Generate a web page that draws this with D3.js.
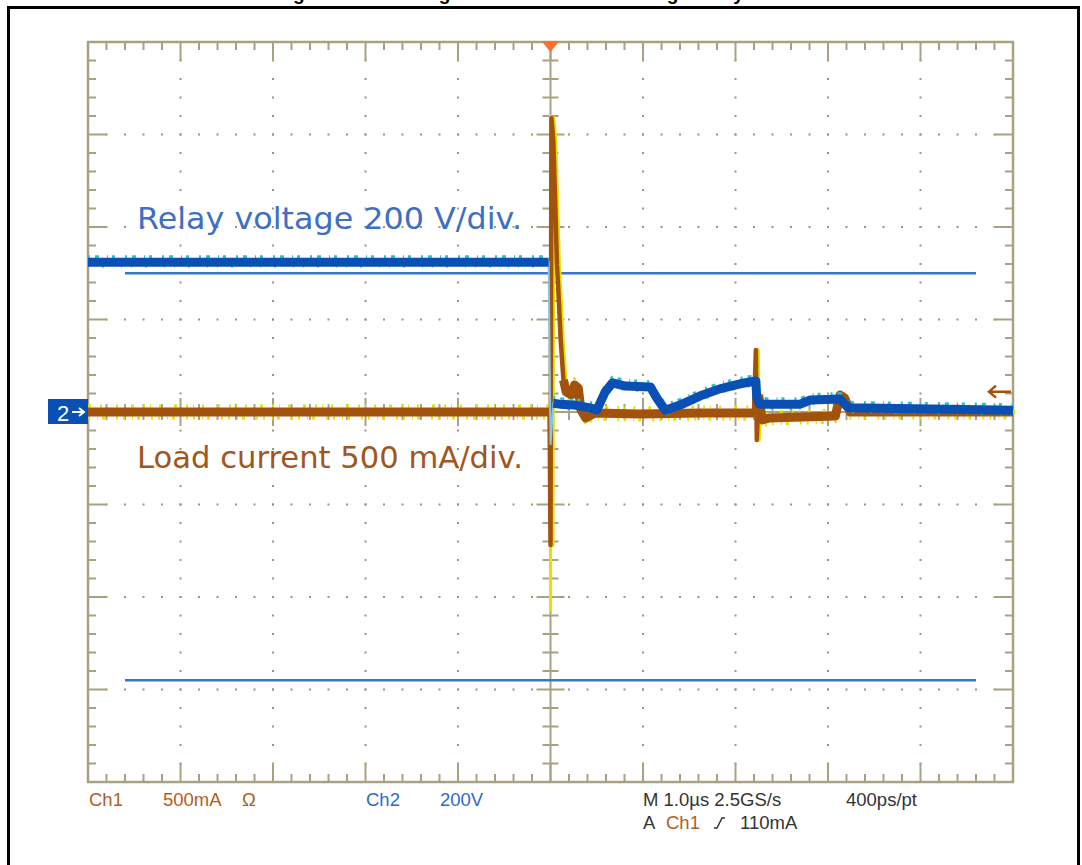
<!DOCTYPE html>
<html>
<head>
<meta charset="utf-8">
<script src="https://cdn.jsdelivr.net/npm/d3@7"></script>
<style>
  body { margin: 0; background: #fff; }
  svg { display: block; }
</style>
</head>
<body>
<div id="scope"></div>
<script>
// chart values
const ch2Time  = [-5.0, -0.02, 0.0, 0.03, 0.10, 0.26, 0.43, 0.50, 0.59, 0.67, 0.81, 1.08, 1.15, 1.24, 1.40, 1.62, 1.83, 2.05, 2.22, 2.23, 2.26, 2.70, 2.81, 3.13, 3.22, 5.0];
const ch2Volts = [324, 324, -71, 19, 17, 15, 9, 4, 43, 63, 56, 54, 30, 4, 15, 35, 50, 61, 67, 30, 17, 17, 26, 28, 9, 4];
const ch1Time  = [-5.0, -0.01, 0.0, 0.01, 0.03, 0.05, 0.07, 0.09, 0.11, 0.14, 0.17, 0.23, 0.26, 0.30, 0.33, 0.38, 0.48, 0.97, 1.62, 2.20, 2.22, 2.23, 2.25, 2.29, 2.37, 3.08, 3.13, 3.18, 3.24, 5.0];
const ch1mA    = [0, 0, -719, 1589, 1470, 1146, 795, 605, 389, 173, 108, 92, 146, 130, 11, -32, -5, -11, -5, -5, 335, -151, 92, -43, -32, -22, 92, 76, 0, 0];
const ch1Spike = [-1081, 1605];   // envelope of the switching spike at t = 0
const ch1Fast = [[-0.005, 0.12], [2.21, 2.24]];  // fast parts of ch1, drawn thin
const ch2Fast = [[-0.01, 0.01]];
const cursorVolts = [300, -580];
const cursorSpan = [-4.6, 4.6];
const trigLevel = 110;            // mA
const voltsPerDiv = 200, mAPerDiv = 500, usPerDiv = 1;
const readoutRow1 = [
  { t: "Ch1", x: 89, c: "ch1" }, { t: "500mA", x: 163, c: "ch1" }, { t: "\u03A9", x: 242, c: "ch1" },
  { t: "Ch2", x: 366, c: "ch2" }, { t: "200V", x: 440, c: "ch2" },
  { t: "M 1.0\u00B5s 2.5GS/s", x: 643, c: "txt" }, { t: "400ps/pt", x: 846, c: "txt" }
];
const readoutRow2 = [
  { t: "A", x: 643, c: "txt" }, { t: "Ch1", x: 666, c: "ch1" }, { t: "110mA", x: 740, c: "txt" }
];

const W = 1082, H = 865;
const plot = { left: 88, right: 1013, top: 42, bottom: 782 };
const colors = { grid: "#a8a282", dot: "#9c9779", ch1: "#a3520c", ch2: "#0a50b4", cyan: "#22c4d8",
                 yellow: "#e8e000", cursor: "#3a74cc", txt: "#333", trig: "#ff7030",
                 relayTxt: "#3f6fc2", loadTxt: "#a0561c", ch1Txt: "#b0601e", ch2Txt: "#2c6ad0" };

const svg = d3.select("#scope").append("svg").attr("width", W).attr("height", H);

// scales
const x = d3.scaleLinear().domain([-5 * usPerDiv, 5 * usPerDiv]).range([plot.left, plot.right]);
const yDiv = d3.scaleLinear().domain([-4, 4]).range([plot.bottom, plot.top]);
const yV = d3.scaleLinear().domain([-4 * voltsPerDiv, 4 * voltsPerDiv]).range([plot.bottom, plot.top]);
const yI = d3.scaleLinear().domain([-4 * mAPerDiv, 4 * mAPerDiv]).range([plot.bottom, plot.top]);

// page frame and (cut off) caption
svg.append("text").attr("x", 510).attr("y", 0).attr("text-anchor", "middle")
  .attr("font-family", "Liberation Sans, Arial").attr("font-weight", "bold").attr("font-size", 19)
  .attr("fill", "#000").text("Figure 9. Switching off a resistive load using a relay");
svg.append("rect").attr("x", 8.5).attr("y", 7.5).attr("width", 1070).attr("height", 900)
  .attr("fill", "#fff").attr("stroke", "#000").attr("stroke-width", 3);

// graticule
const g = svg.append("g");
const fine = d3.range(0, 51).map(k => -5 + k * 0.2);     // time positions, 0.2 div
const fineY = d3.range(0, 41).map(k => -4 + k * 0.2);    // vertical positions
const isMajor = v => Math.abs(v - Math.round(v)) < 1e-6;

// dots along interior division lines
for (let d = -4; d <= 4; d++) {
  if (d === 0) continue;
  fineY.forEach(v => g.append("rect").attr("x", x(d) - 1).attr("y", yDiv(v) - 1).attr("width", 2).attr("height", 2).attr("fill", colors.dot));
}
for (let d = -3; d <= 3; d++) {
  if (d === 0) continue;
  fine.forEach(t => g.append("rect").attr("x", x(t) - 1).attr("y", yDiv(d) - 1).attr("width", 2).attr("height", 2).attr("fill", colors.dot));
}

const tick = (x1, y1, x2, y2) => g.append("line").attr("x1", x1).attr("y1", y1).attr("x2", x2).attr("y2", y2)
  .attr("stroke", colors.grid).attr("stroke-width", 2);

// edge ticks
fine.forEach(t => {
  const len = isMajor(t) ? 19 : 8;
  tick(x(t), plot.top, x(t), plot.top + len);
  tick(x(t), plot.bottom, x(t), plot.bottom - len);
});
fineY.forEach(v => {
  const len = isMajor(v) ? 19 : 8;
  tick(plot.left, yDiv(v), plot.left + len, yDiv(v));
  tick(plot.right, yDiv(v), plot.right - len, yDiv(v));
});
// centre cross
tick(x(0), plot.top, x(0), plot.bottom);
tick(plot.left, yDiv(0), plot.right, yDiv(0));
fineY.forEach(v => { const h = isMajor(v) ? 14 : 8; tick(x(0) - h, yDiv(v), x(0) + h, yDiv(v)); });
fine.forEach(t => { const h = isMajor(t) ? 14 : 8; tick(x(t), yDiv(0) - h, x(t), yDiv(0) + h); });
// outer frame
g.append("rect").attr("x", plot.left).attr("y", plot.top).attr("width", plot.right - plot.left)
  .attr("height", plot.bottom - plot.top).attr("fill", "none").attr("stroke", colors.grid).attr("stroke-width", 2.5);

// cursors
cursorVolts.forEach(v => {
  svg.append("line").attr("x1", x(cursorSpan[0])).attr("x2", x(cursorSpan[1]))
    .attr("y1", yV(v)).attr("y2", yV(v)).attr("stroke", colors.cursor).attr("stroke-width", 2.5);
});

// traces
const ch1 = d3.zip(ch1Time, ch1mA);
const ch2 = d3.zip(ch2Time, ch2Volts);
const slow = fast => d => !fast.some(e => d[0] > e[0] && d[0] < e[1]);
const line1 = d3.line().x(d => x(d[0])).y(d => yI(d[1]));
const line2 = d3.line().x(d => x(d[0])).y(d => yV(d[1]));
const line1s = d3.line().defined(slow(ch1Fast)).x(d => x(d[0])).y(d => yI(d[1]));
const line2s = d3.line().defined(slow(ch2Fast)).x(d => x(d[0])).y(d => yV(d[1]));

const tr = svg.append("g");
// ch1 envelope specks (yellow) above and below the trace
[-6, 6].forEach((off, i) => {
  tr.append("path").datum(ch1).attr("d", line1s).attr("transform", "translate(0," + off + ")")
    .attr("fill", "none").attr("stroke", colors.yellow).attr("stroke-width", 3)
    .attr("stroke-dasharray", i ? "2,7,1,4,3,11,2,5" : "3,9,2,5,1,8,2,13");
});
tr.append("line").attr("x1", x(0)).attr("x2", x(0)).attr("y1", yI(ch1Spike[0])).attr("y2", yI(ch1Spike[1]))
  .attr("stroke", colors.yellow).attr("stroke-width", 3);
tr.append("path").datum(ch1).attr("d", line1).attr("transform", "translate(2,0)").attr("fill", "none")
  .attr("stroke", colors.yellow).attr("stroke-width", 4).attr("stroke-linejoin", "round");
tr.append("path").datum(ch1).attr("d", line1).attr("fill", "none").attr("stroke", colors.ch1)
  .attr("stroke-width", 4.5).attr("stroke-linejoin", "round");
tr.append("path").datum(ch1).attr("d", line1s).attr("fill", "none").attr("stroke", colors.ch1)
  .attr("stroke-width", 9).attr("stroke-linejoin", "round");

// ch2 with cyan specks
tr.append("path").datum(ch2).attr("d", line2s).attr("transform", "translate(0,-5)")
  .attr("fill", "none").attr("stroke", colors.cyan).attr("stroke-width", 4)
  .attr("stroke-dasharray", "2,5,4,8,1,4,3,10");
tr.append("path").datum(ch2).attr("d", line2s).attr("transform", "translate(0,4)")
  .attr("fill", "none").attr("stroke", colors.cyan).attr("stroke-width", 2.5)
  .attr("stroke-dasharray", "1,13,2,17,1,9");
tr.append("path").datum(ch2).attr("d", line2).attr("fill", "none").attr("stroke", "#7ec8f0")
  .attr("stroke-width", 2);
tr.append("path").datum(ch2).attr("d", line2s).attr("fill", "none").attr("stroke", colors.ch2)
  .attr("stroke-width", 9).attr("stroke-linejoin", "round");

// trace labels
svg.append("text").attr("x", 137).attr("y", 229).attr("font-family", "DejaVu Sans")
  .attr("font-size", 30).attr("fill", colors.relayTxt).attr("textLength", 385).attr("lengthAdjust", "spacingAndGlyphs")
  .text("Relay voltage 200 V/div.");
svg.append("text").attr("x", 137).attr("y", 468).attr("font-family", "DejaVu Sans")
  .attr("font-size", 30).attr("fill", colors.loadTxt).attr("textLength", 386).attr("lengthAdjust", "spacingAndGlyphs")
  .text("Load current 500 mA/div.");

// ch2 ground marker
const gy = yV(0);
svg.append("rect").attr("x", 48).attr("y", gy - 13).attr("width", 40).attr("height", 25).attr("fill", colors.ch2);
svg.append("text").attr("x", 57).attr("y", gy + 9).attr("font-family", "Liberation Sans, Arial").attr("font-size", 22)
  .attr("fill", "#fff").text("2");
svg.append("path").attr("d", `M72,${gy} L84,${gy} M79,${gy - 4} L84,${gy} L79,${gy + 4}`)
  .attr("fill", "none").attr("stroke", "#fff").attr("stroke-width", 2);

// trigger position marker
svg.append("path").attr("d", d3.line()([[x(0) - 9, plot.top - 1], [x(0) + 9, plot.top - 1], [x(0), plot.top + 10]]) + "Z")
  .attr("fill", colors.trig);

// trigger level marker
const ty = yI(trigLevel);
svg.append("path").attr("d", `M989,${ty} L1011,${ty} M996,${ty - 6} L989,${ty} L996,${ty + 6}`)
  .attr("fill", "none").attr("stroke", colors.ch1).attr("stroke-width", 2.5);

// readouts
const readColor = c => c === "ch1" ? colors.ch1Txt : c === "ch2" ? colors.ch2Txt : colors.txt;
const rd = (row, yb) => svg.selectAll(null).data(row).enter().append("text")
  .attr("x", d => d.x).attr("y", yb).attr("font-family", "Liberation Sans, Arial").attr("font-size", 18.5)
  .attr("fill", d => readColor(d.c)).text(d => d.t);
rd(readoutRow1, 806);
rd(readoutRow2, 829);
// rising edge glyph
svg.append("path").attr("d", "M714,828 L717,828 L722,818 L725,818").attr("fill", "none")
  .attr("stroke", colors.txt).attr("stroke-width", 1.5);
</script>
</body>
</html>
